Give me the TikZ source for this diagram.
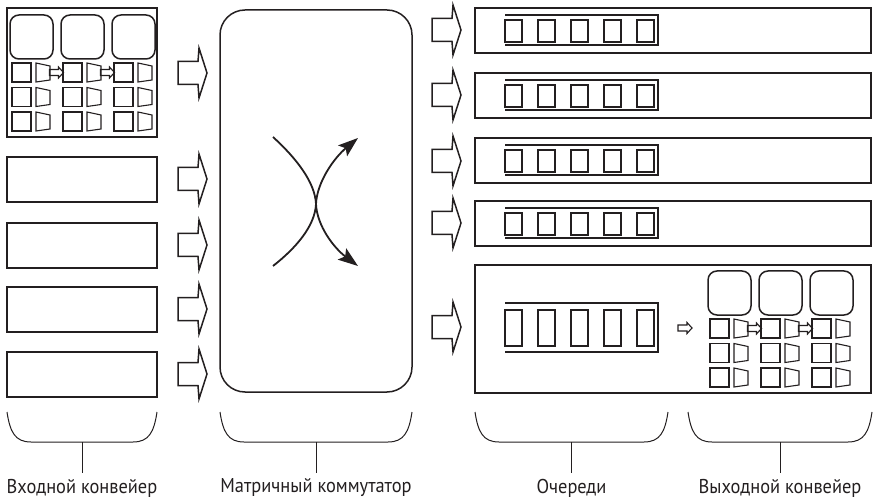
\documentclass[tikz,border=0pt]{standalone}
\usepackage{fontspec}
\setmainfont[FakeStretch=0.92]{PT Sans}
\usetikzlibrary{arrows.meta}
\definecolor{ink}{HTML}{231F20}
\tikzset{
  thk/.style={draw=ink, line width=1.5pt},
  thn/.style={draw=ink, line width=1.1pt},
  brk/.style={draw=ink, line width=1pt},
  cross/.style={draw=ink, line width=1.8pt, -{Stealth[length=20pt,width=14pt,inset=4pt]}},
  lbl/.style={font=\fontsize{20}{22}\selectfont, text=ink, inner sep=0pt},
  bigarr/.pic={\draw[thk, line join=miter] (-14,-11.5) -- (6,-11.5) -- (7,-25) -- (15,0) -- (7,25) -- (6,11.5) -- (-14,11.5) -- cycle;},
  smallarr/.pic={\draw[thn, line join=miter] (-7,-3) -- (2,-3) -- (2,-5.5) -- (7,0) -- (2,5.5) -- (2,3) -- (-7,3) -- cycle;},
}
% pipeline block: three processors with three rows of stages
\newcommand{\pipeline}[2]{%
  \begin{scope}[shift={(#1,#2)}]
    \foreach \g in {0,1,2} {
      \draw[thk, rounded corners=9pt] (\g*51,0) rectangle ++(43,44);
      \foreach \r in {0,1,2} {
        \draw[thn] (\g*51+2,48+\r*24.5) rectangle ++(19,19);
        \draw[thn] (\g*51+26,48+\r*24.5) -- ++(14,3) -- ++(0,14) -- ++(-14,2) -- cycle;
      }
    }
    \foreach \g in {0,1} \pic at (\g*51+46.5,57.5) {smallarr};
  \end{scope}}

\begin{document}
\begin{tikzpicture}[x=1pt,y=-1pt]
\useasboundingbox (0,0) rectangle (874,502);

% input side
\draw[thk] (7,8) rectangle (157,137);
\pipeline{10}{15}
\foreach \t in {157,223,287,352}
  \draw[thk] (7,\t) rectangle (157,\t+45);
\foreach \y in {73,179,245,309,374}
  \pic at (192,\y) {bigarr};

% crossbar switch
\draw[thk, rounded corners=25pt] (220,10) rectangle (412,392);
\draw[cross] (273,137) .. controls (296,158) and (315,182) .. (316,204) .. controls (317,226) and (334,248) .. (358,266);
\draw[cross] (273,266) .. controls (296,248) and (315,226) .. (316,204) .. controls (317,182) and (334,158) .. (358,138);

% queues
\foreach \y in {30,95,161,223,327}
  \pic at (446,\y) {bigarr};
\foreach \t in {8,73,138,201} {
  \draw[thk] (475,\t) rectangle (871,\t+45);
  \draw[thn] (505,\t+7) -- (658,\t+7) -- (658,\t+37) -- (505,\t+37);
  \foreach \i in {0,...,4}
    \draw[thn] (505+\i*33,\t+12) rectangle ++(17,22);
}
\draw[thk] (475,265) rectangle (871,393);
\draw[thn] (505,303) -- (658,303) -- (658,352) -- (505,352);
\foreach \i in {0,...,4}
  \draw[thn] (505+\i*33,310) rectangle ++(17,36);
\pic at (685,328) {smallarr};

% output side
\pipeline{708}{271}

% braces and captions
\foreach \xa/\xb/\nm/\txt in {7/157/inp/Входной конвейер, 220/412/sw/Матричный коммутатор, 475/668/que/Очереди, 688/872/out/Выходной конвейер} {
  \draw[brk] (\xa,412) .. controls (\xa+3,432) and (\xa+8,442) .. (\xa+24,442) -- (\xb-24,442) .. controls (\xb-8,442) and (\xb-3,432) .. (\xb,412);
  \node[lbl] (\nm) at ({(\xa+\xb)/2},488) {\txt};
  \draw[brk] ({(\xa+\xb)/2},442) -- (\nm.north |- 0,473);
}
\end{tikzpicture}
\end{document}
